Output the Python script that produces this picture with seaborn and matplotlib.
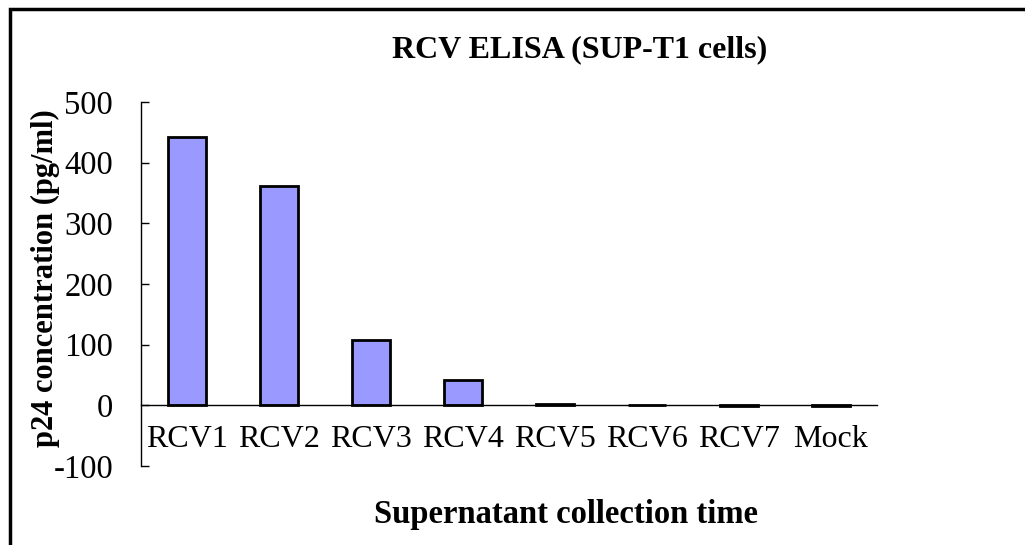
import matplotlib
matplotlib.use("Agg")
import matplotlib.pyplot as plt
import matplotlib.patches as mpatches
import seaborn as sns
import pandas as pd
import numpy as np

categories = ["RCV1", "RCV2", "RCV3", "RCV4", "RCV5", "RCV6", "RCV7", "Mock"]
values = [442, 362, 108, 41, 3, 1, -1, -1]
yticks = [-100, 0, 100, 200, 300, 400, 500]

title = "RCV ELISA (SUP-T1 cells)"
xlabel = "Supernatant collection time"
ylabel = "p24 concentration (pg/ml)"

sns.set_theme(style="white")
plt.rcParams['font.family'] = ['Liberation Serif', 'DejaVu Serif']
plt.rcParams['text.color'] = 'black'
plt.rcParams['xtick.color'] = 'black'
plt.rcParams['ytick.color'] = 'black'
plt.rcParams['axes.labelcolor'] = 'black'

df = pd.DataFrame({"cat": categories, "val": values})

fig = plt.figure(figsize=(10.25, 5.45), dpi=100)
ax = fig.add_axes([141/1025, 1 - 466/545, (877-141)/1025, (466-102)/545])

sns.barplot(data=df, x="cat", y="val", ax=ax, color="#9999FF", width=0.41,
            edgecolor="black", linewidth=2, saturation=1, errorbar=None)

ax.set_xlim(-0.5, len(categories) - 0.5)
ax.set_ylim(-100, 500)
ax.set_yticks(yticks)
ax.set_yticklabels([str(t) for t in yticks], fontsize=23.5, color="black")

for s in ["top", "right"]:
    ax.spines[s].set_visible(False)
ax.spines["bottom"].set_position(("data", 0))
ax.spines["bottom"].set_color("black")
ax.spines["bottom"].set_linewidth(1)
ax.spines["left"].set_color("black")
ax.spines["left"].set_linewidth(1)

ax.set_xticks(np.arange(len(categories)))
ax.set_xticklabels(categories, fontsize=23, color="black")
ax.set_xticks(np.arange(-0.5, len(categories)), minor=True)
ax.tick_params(axis="x", which="major", length=0, pad=14)
ax.tick_params(axis="x", which="minor", direction="in", length=6, width=1, color="black")
ax.tick_params(axis="y", which="major", direction="in", length=6, width=1, color="black", pad=20, left=True)

ax.set_xlabel("")
ax.set_ylabel("")

fig.text(580/1025, 1 - 50/545, title, ha="center", va="center", fontsize=23, fontweight="bold", color="black")
fig.text(566/1025, 1 - 514/545, xlabel, ha="center", va="center", fontsize=23.5, fontweight="bold", color="black")
fig.text(45/1025, 1 - 278/545, ylabel, ha="center", va="center", fontsize=22, fontweight="bold", rotation=90, color="black")

frame = mpatches.Rectangle((10/1025, -0.2), 1.2, (1 - 9/545) + 0.2, transform=fig.transFigure,
                           fill=False, edgecolor="black", linewidth=2.5, clip_on=False)
fig.patches.append(frame)

fig.savefig("out.png", dpi=100)
